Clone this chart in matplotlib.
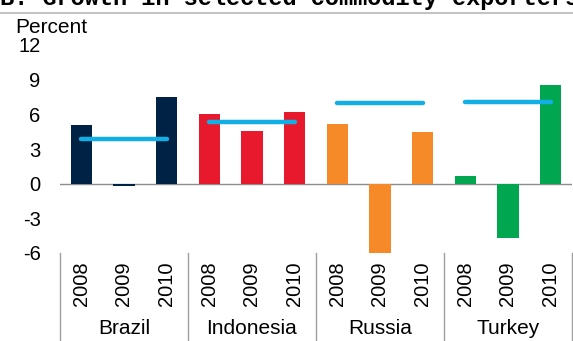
import matplotlib.pyplot as plt
from matplotlib.lines import Line2D

countries = ['Brazil', 'Indonesia', 'Russia', 'Turkey']
years = ['2008', '2009', '2010']
growth = {
    'Brazil': [5.1, -0.2, 7.5],
    'Indonesia': [6.0, 4.6, 6.2],
    'Russia': [5.2, -6.0, 4.5],
    'Turkey': [0.7, -4.7, 8.5],
}
average = [3.9, 5.3, 7.0, 7.1]
colors = ['#002244', '#E8192C', '#F68A28', '#00A650']

plt.rcParams['font.family'] = ['Liberation Sans', 'DejaVu Sans']
plt.rcParams['axes.unicode_minus'] = False

fig = plt.figure(figsize=(5.73, 3.41), dpi=100)
ax = fig.add_axes([60 / 573, 1 - 253 / 341, 512 / 573, 208 / 341])

for g, c in enumerate(countries):
    xs = [g * 3 + i for i in range(3)]
    ax.bar(xs, growth[c], width=0.5, color=colors[g], zorder=2)
    ax.plot([xs[0], xs[-1]], [average[g]] * 2, color='#12AEE6', lw=3.2,
            solid_capstyle='round', zorder=3)

ax.axhline(0, color='#8C8C8C', lw=1, zorder=1)
ax.set_xlim(-0.5, 11.5)
ax.set_ylim(-6, 12)
ax.set_yticks(range(-6, 13, 3))
ax.tick_params(axis='y', length=0, pad=14, labelsize=14.5)
ax.set_xticks([])
for s in ax.spines.values():
    s.set_visible(False)

trans = ax.get_xaxis_transform()
for g, c in enumerate(countries):
    for i, y in enumerate(years):
        ax.text(g * 3 + i, -0.04, y, rotation=90, ha='center', va='top',
                fontsize=14.5, transform=trans)
    ax.text(g * 3 + 1, -0.365, c, ha='center', va='center', fontsize=15,
            transform=trans)
for k in range(5):
    ax.plot([k * 3 - 0.5] * 2, [0, -0.43], color='#A0A0A0', lw=1,
            transform=trans, clip_on=False)

fig.text(0.0, 1 - 5.5 / 341, 'B. Growth in selected commodity exporters',
         family='Liberation Mono', fontweight='bold', fontsize=17,
         ha='left', va='baseline')
fig.add_artist(Line2D([0, 1], [1 - 13 / 341] * 2, color='#C4C4C4', lw=1.5,
                      transform=fig.transFigure))
fig.text(15 / 573, 1 - 33 / 341, 'Percent', fontsize=15, ha='left',
         va='baseline')

fig.savefig('out.png', dpi=100)
